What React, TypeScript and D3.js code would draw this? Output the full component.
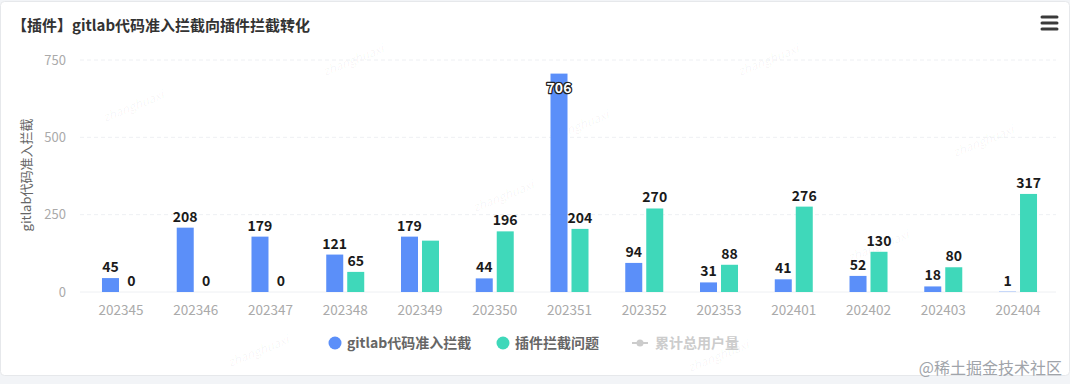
import { useEffect, useRef } from "react"
import * as d3 from "d3"

const categories = [
  "202345", "202346", "202347", "202348", "202349", "202350", "202351",
  "202352", "202353", "202401", "202402", "202403", "202404",
]
const gitlabValues = [45, 208, 179, 121, 179, 44, 706, 94, 31, 41, 52, 18, 1]
const pluginValues = [0, 0, 0, 65, 166, 196, 204, 270, 88, 276, 130, 80, 317]
// label for the green bar at 202349 is hidden in the original (overlap)
const pluginLabelShown = [true, true, true, true, false, true, true, true, true, true, true, true, true]
const yTicks = [0, 250, 500, 750]
const seriesNames = ["gitlab代码准入拦截", "插件拦截问题", "累计总用户量"]
const colors = ["#5B8FF9", "#3FD8BA"]

const W = 1070
const H = 384
const FONT = "'Noto Sans CJK SC', 'Noto Sans', sans-serif"

export default function App() {
  const svgRef = useRef<SVGSVGElement>(null)

  useEffect(() => {
    const svg = d3.select(svgRef.current)
    svg.selectAll("*").remove()

    // card
    svg.append("rect").attr("width", W).attr("height", H).attr("fill", "#f2f4f7")
    svg.append("rect")
      .attr("x", 0.5).attr("y", 1.5).attr("width", W - 1).attr("height", 374)
      .attr("rx", 4).attr("fill", "#fff").attr("stroke", "#e6e8eb")

    // watermarks
    const marks: [number, number][] = [
      [355, 64], [770, 64], [580, 130], [985, 145], [135, 110], [505, 200], [260, 355], [720, 360], [880, 250],
    ]
    svg.append("g").selectAll("text").data(marks).enter().append("text")
      .attr("transform", (d) => `translate(${d[0]},${d[1]}) rotate(-22)`)
      .attr("text-anchor", "middle")
      .attr("font-family", FONT).attr("font-size", 12).attr("font-style", "italic")
      .attr("fill", "rgba(0,0,0,0.045)")
      .text("zhanghuaxi")

    // title
    svg.append("text")
      .attr("x", 12).attr("y", 31)
      .attr("font-family", FONT).attr("font-size", 15).attr("font-weight", "bold")
      .attr("fill", "#333")
      .text("【插件】gitlab代码准入拦截向插件拦截转化")

    // menu icon
    svg.append("g").selectAll("line").data([17, 23, 29]).enter().append("line")
      .attr("x1", 1042).attr("x2", 1057).attr("y1", (d) => d).attr("y2", (d) => d)
      .attr("stroke", "#3a3a3a").attr("stroke-width", 3).attr("stroke-linecap", "round")

    const x = d3.scaleBand().domain(categories).range([83.6, 1055.4])
    const y = d3.scaleLinear().domain([0, 750]).range([292, 60])
    const sub = d3.scaleBand().domain(["a", "b"]).range([0, 38]).paddingInner(0.19)
    const offset = (x.bandwidth() - 38) / 2

    // grid
    svg.append("g").selectAll("line").data(yTicks).enter().append("line")
      .attr("x1", 80).attr("x2", 1056)
      .attr("y1", (d) => y(d)).attr("y2", (d) => y(d))
      .attr("stroke", "#eef0f3").attr("stroke-dasharray", (d) => (d === 0 ? null : "4,3"))

    svg.append("g").selectAll("text").data(yTicks).enter().append("text")
      .attr("x", 66).attr("y", (d) => y(d) + 4.5)
      .attr("text-anchor", "end")
      .attr("font-family", FONT).attr("font-size", 13).attr("fill", "#aaa")
      .text((d) => d)

    svg.append("text")
      .attr("transform", "translate(31,175) rotate(-90)")
      .attr("text-anchor", "middle")
      .attr("font-family", FONT).attr("font-size", 13).attr("fill", "#666")
      .text("gitlab代码准入拦截")

    // x labels
    svg.append("g").selectAll("text").data(categories).enter().append("text")
      .attr("x", (d) => (x(d) as number) + x.bandwidth() / 2).attr("y", 315)
      .attr("text-anchor", "middle")
      .attr("font-family", FONT).attr("font-size", 13.5).attr("fill", "#aaa")
      .text((d) => d)

    const series = [
      { key: "a", values: gitlabValues, color: colors[0], shown: categories.map(() => true) },
      { key: "b", values: pluginValues, color: colors[1], shown: pluginLabelShown },
    ]

    series.forEach((s) => {
      const g = svg.append("g")
      const rows = categories.map((c, i) => ({ c, v: s.values[i], show: s.shown[i] }))
      const bx = (c: string) => (x(c) as number) + offset + (sub(s.key) as number)
      g.selectAll("rect").data(rows).enter().append("rect")
        .attr("x", (d) => bx(d.c)).attr("width", sub.bandwidth())
        .attr("y", (d) => y(d.v)).attr("height", (d) => y(0) - y(d.v))
        .attr("fill", s.color)

      rows.filter((d) => d.show).forEach((d) => {
        const inside = d.v > 650
        const t = g.append("text")
          .attr("x", bx(d.c) + sub.bandwidth() / 2)
          .attr("y", inside ? y(d.v) + 19 : y(d.v) - 6)
          .attr("text-anchor", "middle")
          .attr("font-family", FONT).attr("font-size", 14).attr("font-weight", "bold")
          .text(d.v)
        if (inside) {
          t.attr("fill", "#fff").attr("stroke", "#222").attr("stroke-width", 2.5)
            .attr("paint-order", "stroke").attr("stroke-linejoin", "round")
        } else {
          t.attr("fill", "#1a1a1a")
        }
      })
    })

    // legend
    const lg = svg.append("g").attr("font-family", FONT).attr("font-size", 14).attr("font-weight", "bold")
    lg.append("circle").attr("cx", 335).attr("cy", 343).attr("r", 6.5).attr("fill", colors[0])
    lg.append("text").attr("x", 347).attr("y", 348).attr("fill", "#666").text(seriesNames[0])
    lg.append("circle").attr("cx", 503).attr("cy", 343).attr("r", 6.5).attr("fill", colors[1])
    lg.append("text").attr("x", 515).attr("y", 348).attr("fill", "#666").text(seriesNames[1])
    lg.append("line").attr("x1", 632).attr("x2", 648).attr("y1", 343).attr("y2", 343)
      .attr("stroke", "#ccc").attr("stroke-width", 2)
    lg.append("circle").attr("cx", 640).attr("cy", 343).attr("r", 3.5).attr("fill", "#ccc")
    lg.append("text").attr("x", 655).attr("y", 348).attr("fill", "#ccc").text(seriesNames[2])

    // source mark
    svg.append("text")
      .attr("x", 1062).attr("y", 374)
      .attr("text-anchor", "end")
      .attr("font-family", FONT).attr("font-size", 16).attr("fill", "#a0a4aa")
      .text("@稀土掘金技术社区")
  }, [])

  return (
    <svg
      ref={svgRef}
      width={W}
      height={H}
      style={{ position: "absolute", left: 0, top: 0, display: "block" }}
    />
  )
}
